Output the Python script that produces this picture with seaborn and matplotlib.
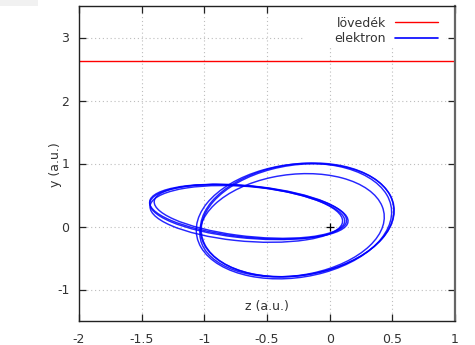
import matplotlib
matplotlib.use("Agg")
import matplotlib.pyplot as plt
import seaborn as sns
from matplotlib.patches import Ellipse, Rectangle
from matplotlib.lines import Line2D

# projectile track: straight line at constant height
lovedek_z = [-2.0, 1.0]
lovedek_y = [2.63, 2.63]

# electron orbit, one ellipse per revolution:
# centre (z, y), full width / height along its own axes, tilt in degrees
orbit_cz = [-0.645, -0.650, -0.640, -0.665, -0.260, -0.255, -0.285, -0.300]
orbit_cy = [0.235, 0.230, 0.240, 0.200, 0.105, 0.100, 0.085, 0.020]
orbit_w = [1.62, 1.60, 1.56, 1.56, 1.86, 1.85, 1.88, 1.70]
orbit_h = [0.80, 0.82, 0.78, 0.86, 1.48, 1.47, 1.50, 1.40]
orbit_ang = [-14, -13, -15, -12, 67, 66, 68, 62]

# nucleus position
mag_z = [0.0]
mag_y = [0.0]

x_ticks = [-2, -1.5, -1, -0.5, 0, 0.5, 1]
x_ticklabels = ["-2", "-1.5", "-1", "-0.5", "0", "0.5", "1"]
y_ticks = [-1, 0, 1, 2, 3]
y_ticklabels = ["-1", "0", "1", "2", "3"]

sns.set_style("ticks", {
    "xtick.direction": "in",
    "ytick.direction": "in",
    "axes.edgecolor": "#222222",
})
plt.rcParams["font.family"] = ["DejaVu Sans"]
plt.rcParams["font.size"] = 9

fig = plt.figure(figsize=(4.75, 3.45), dpi=100)
fig.patches.append(Rectangle((0, 1 - 6 / 345), 38 / 475, 6 / 345,
                             transform=fig.transFigure, facecolor="#f1f1f1",
                             edgecolor="none", zorder=0))
ax = fig.add_axes([79 / 475, 24 / 345, 376 / 475, 315 / 345])
ax.set_xlim(-2, 1)
ax.set_ylim(-1.5, 3.5)

# dotted grid at the major ticks
grid_kw = dict(color="#bdbdbd", lw=0.8, ls=(0, (1, 2.5)), zorder=0.5)
for xv in x_ticks[1:-1]:
    ax.axvline(xv, **grid_kw)
for yv in y_ticks:
    ax.axhline(yv, **grid_kw)

# key background hides the grid behind it
ax.add_patch(Rectangle((0.596, 0.870), 0.38, 0.14, transform=ax.transAxes,
                       facecolor="white", edgecolor="none", zorder=0.8))

sns.lineplot(x=lovedek_z, y=lovedek_y, color="red", lw=1.0, sort=False,
             estimator=None, ax=ax, legend=False, zorder=2)

for cz, cy, w, h, ang in zip(orbit_cz, orbit_cy, orbit_w, orbit_h, orbit_ang):
    ax.add_patch(Ellipse((cz, cy), w, h, angle=ang, fill=False,
                         edgecolor="blue", lw=1.05, alpha=0.85, zorder=2))

sns.scatterplot(x=mag_z, y=mag_y, marker="+", color="black", s=28,
                linewidth=0.9, ax=ax, legend=False, zorder=3)

ax.set_xticks(x_ticks)
ax.set_xticklabels(x_ticklabels)
ax.set_yticks(y_ticks)
ax.set_yticklabels(y_ticklabels)
ax.tick_params(which="major", direction="in", length=5, width=0.9,
               top=True, right=True, labelsize=9, colors="#222222",
               labelcolor="#333333", pad=7)
ax.tick_params(axis="x", pad=8.5)

for side in ["left", "bottom", "top"]:
    ax.spines[side].set_linewidth(1.0)
    ax.spines[side].set_color("#222222")
ax.spines["right"].set_linewidth(1.6)
ax.spines["right"].set_color("#666666")

ax.set_xlabel("z (a.u.)", fontsize=9, color="#333333")
ax.set_ylabel("y (a.u.)", fontsize=9, color="#333333")
ax.xaxis.set_label_coords(0.5, 0.068)
ax.yaxis.set_label_coords(-0.045, 0.495)

handles = [Line2D([], [], color="red", lw=1.0),
           Line2D([], [], color="blue", lw=1.2)]
ax.legend(handles, ["lövedék", "elektron"], loc="upper right",
          bbox_to_anchor=(0.955, 0.966), frameon=False, markerfirst=False,
          handlelength=3.44, handletextpad=0.72, labelspacing=0.2,
          borderaxespad=0, borderpad=0, fontsize=9, labelcolor="#333333")

fig.savefig("out.png", dpi=100)
